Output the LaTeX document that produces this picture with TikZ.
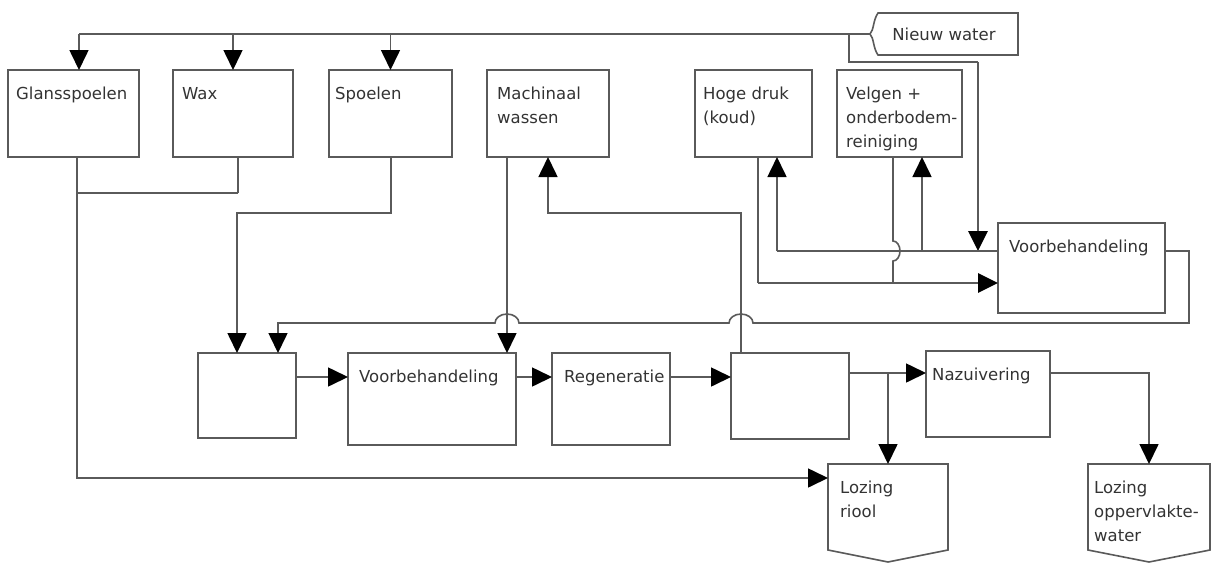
\documentclass[tikz,border=0pt]{standalone}
\usepackage{fontspec}
\setmainfont{DejaVu Sans}
\usetikzlibrary{arrows.meta,calc}
\definecolor{ln}{HTML}{5A5A5A}
\definecolor{tx}{HTML}{333333}

\begin{document}
\begin{tikzpicture}[x=1pt,y=-1pt,
  box/.style={draw=ln, line width=1.6pt, inner sep=0pt, outer sep=0pt, rectangle},
  ghost/.style={inner sep=0pt, outer sep=0pt, rectangle},
  lbl/.style={anchor=north west, inner sep=0pt, align=left, text=tx, font=\fontsize{16.5}{24}\selectfont},
  flow/.style={draw=ln, line width=1.6pt},
  heavy/.style={draw=ln, line width=2.8pt},
  tip/.style={-{Triangle[length=20pt,width=19pt,black]}},
]
\useasboundingbox (0,0) rectangle (1214,563);

% ---- upper row of washing stations
\node[box, minimum width=131pt, minimum height=87pt] (glans)   at (73.5,113.5) {};
\node[box, minimum width=120pt, minimum height=87pt] (wax)     at (233,113.5) {};
\node[box, minimum width=123pt, minimum height=87pt] (spoelen) at (390.5,113.5) {};
\node[box, minimum width=122pt, minimum height=87pt] (mach)    at (548,113.5) {};
\node[box, minimum width=117pt, minimum height=87pt] (hoge)    at (753.5,113.5) {};
\node[box, minimum width=125pt, minimum height=87pt] (velgen)  at (899.5,113.5) {};

\node[lbl] (tglans)   at (16,87)  {Glansspoelen};
\node[lbl] (twax)     at (182,87) {Wax};
\node[lbl] (tspoelen) at (335,87) {Spoelen};
\node[lbl] (tmach)    at (497,87) {Machinaal\\wassen};
\node[lbl] (thoge)    at (703,87) {Hoge druk\\(koud)};
\node[lbl] (tvelgen)  at (846,87) {Velgen +\\onderbodem-\\reiniging};

% ---- treatment line
\node[box, minimum width=98pt,  minimum height=85pt] (buf1)  at (247,395.5) {};
\node[box, minimum width=168pt, minimum height=92pt] (voorM) at (432,399) {};
\node[box, minimum width=118pt, minimum height=92pt] (regen) at (611,399) {};
\node[box, minimum width=118pt, minimum height=86pt] (buf2)  at (790,396) {};
\node[box, minimum width=124pt, minimum height=86pt] (naz)   at (988,394) {};
\node[box, minimum width=167pt, minimum height=90pt] (voorR) at (1081.5,268) {};

\node[lbl] (tvoorM) at (359,370)  {Voorbehandeling};
\node[lbl] (tregen) at (564,370)  {Regeneratie};
\node[lbl] (tnaz)   at (932,368)  {Nazuivering};
\node[lbl] (tvoorR) at (1009,240) {Voorbehandeling};

% ---- discharge points
\node[ghost, minimum width=120pt, minimum height=98pt] (riool) at (888,513) {};
\node[ghost, minimum width=122pt, minimum height=98pt] (opp)   at (1149,513) {};
\foreach \n in {riool,opp}
  \draw[flow] (\n.north west) -- (\n.north east) -- ($(\n.south east)+(0,-12)$)
    -- (\n.south) -- ($(\n.south west)+(0,-12)$) -- cycle;
\node[lbl] (triool) at (840,481)  {Lozing\\riool};
\node[lbl] (topp)   at (1094,481) {Lozing\\oppervlakte-\\water};

% ---- fresh water supply
\node[ghost, minimum width=148pt, minimum height=42pt, text=tx,
      font=\fontsize{16.5}{24}\selectfont] (nieuw) at (944,34) {Nieuw water};
\draw[flow] (878,13) -- (nieuw.north east) -- (nieuw.south east) -- (878,55)
  .. controls (873,48) and (874,38) .. (nieuw.west)
  .. controls (874,30) and (873,20) .. cycle;

% ---- named junctions
\coordinate (topL) at (79,34);
\coordinate (nb)   at (849,34);
\coordinate (rin)  at (998,251);
\coordinate (rout) at (1165,251);
\coordinate (hin)  at (998,283);

% supply header
\draw[heavy] (nieuw.west) -- (topL);
\draw[flow,tip] (topL) -- (topL |- glans.north);
\draw[flow,tip] (wax.north |- topL) -- (wax.north);
\draw[flow,tip] (spoelen.north |- topL) -- (spoelen.north);
\draw[flow] (nb) -- (849,62) -- (978,62);
\draw[heavy,tip] (978,62) -- (978,251);

% high pressure / rims circuit
\draw[heavy] (rin) -- (777,251);
\draw[flow,tip] (777,251) -- (777,157);
\draw[flow,tip] (922,251) -- (922,157);
\draw[flow] (758,157) -- (758,283);
\draw[heavy,tip] (758,283) -- (hin);
\draw[flow] (893,157) -- (893,241)
  arc[start angle=90, end angle=-90, x radius=7pt, y radius=10pt] -- (893,283);

% return from right pretreatment into the first buffer
\draw[flow,tip] (rout) -- (1189,251) -- (1189,323) -- (753,323)
  arc[start angle=0, end angle=180, x radius=12pt, y radius=9pt] -- (519,323)
  arc[start angle=0, end angle=180, x radius=12pt, y radius=9pt] -- (278,323)
  -- (278,353);

% rinse and wax drains
\draw[flow] (238,157) -- (238,193);
\draw[heavy] (238,193) -- (77,193);
\draw[flow,tip] (77,157) -- (77,478) -- (828,478);
\draw[flow,tip] (391,157) -- (391,213) -- (237,213) -- (237,353);

% machine wash loop
\draw[flow,tip] (507,157) -- (507,353);
\draw[flow,tip] (741,353) -- (741,213) -- (548,213) -- (548,157);

% treatment chain
\draw[flow,tip] (296,377) -- (348,377);
\draw[flow,tip] (516,377) -- (552,377);
\draw[flow,tip] (670,377) -- (731,377);
\draw[flow,tip] (849,373) -- (926,373);
\draw[flow,tip] (888,373) -- (riool.north);
\draw[flow,tip] (1050,373) -- (1149,373) -- (opp.north);
\end{tikzpicture}
\end{document}
